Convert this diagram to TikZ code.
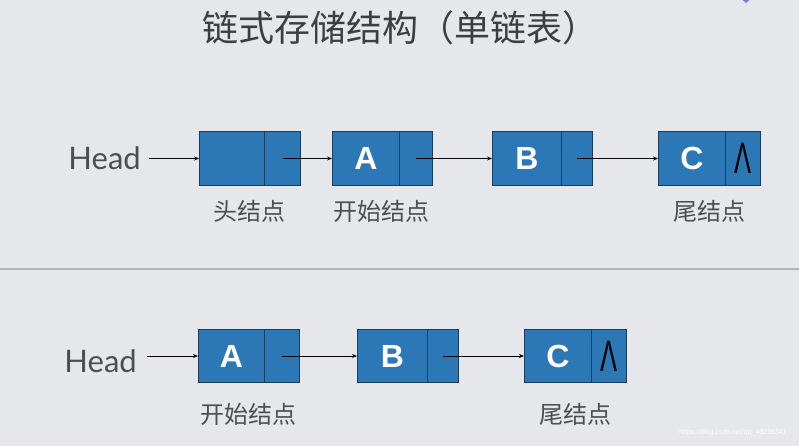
\documentclass[tikz,border=0pt]{standalone}
\usepackage{fontspec}
\usepackage{graphicx}
\setmainfont{Liberation Sans}
\newfontfamily\cjkf{Noto Sans CJK SC}
\newfontfamily\headf{Lato}
\usetikzlibrary{arrows.meta,shapes.geometric,calc}
\definecolor{bg}{HTML}{E6E7EA}
\definecolor{cellblue}{HTML}{2C78B6}
\definecolor{celledge}{HTML}{1B3D5C}
\definecolor{txtgray}{HTML}{4E4E4E}
\definecolor{titlegray}{HTML}{3E3E3E}
\definecolor{sepgray}{HTML}{B2B3B7}
\definecolor{markblue}{HTML}{6A7CF0}
\tikzset{
  cellbase/.style={draw=celledge, fill=cellblue, line width=1pt, inner sep=0pt, anchor=north west},
  dcell/.style={cellbase, text=white, font=\fontsize{32}{36}\selectfont\bfseries},
  pcell/.style={cellbase, text=black, font=\fontsize{44}{48}\selectfont},
  headtxt/.style={text=txtgray, font=\headf\fontsize{31}{36}\selectfont, inner sep=0pt, anchor=east},
  lbl/.style={text=txtgray, font=\cjkf\fontsize{24}{28}\selectfont, inner sep=0pt},
  arr/.style={draw=black, line width=0.9pt, -{Stealth[length=5pt,width=4pt]}},
}
\newcommand{\nullsym}{\scalebox{0.58}[1]{Λ}}
\begin{document}
\begin{tikzpicture}[x=1pt,y=-1pt]
\useasboundingbox (0,0) rectangle (799,446);
\fill[bg] (0,0) rectangle (799,446);
% decorative mark top right
\node[diamond, fill=markblue, inner sep=0pt, minimum width=12pt, minimum height=10pt] (mark) at (746,-2) {};
% title
\node[text=titlegray, font=\cjkf\fontsize{36}{40}\selectfont, inner sep=0pt] (title) at (400,28) {链式存储结构（单链表）};
% separator
\draw[sepgray, line width=1.6pt] (0,269) -- (799,269);

% ---------- top row ----------
\node[headtxt] (head1) at (141,158) {Head};
\node[dcell, minimum width=65pt, minimum height=54pt] (hd) at (199,131) {};
\node[pcell, minimum width=36pt, minimum height=54pt] (hp) at (264,131) {};
\node[dcell, minimum width=67pt, minimum height=54pt] (Ad) at (332,131) {A};
\node[pcell, minimum width=33pt, minimum height=54pt] (Ap) at (399,131) {};
\node[dcell, minimum width=69pt, minimum height=54pt] (Bd) at (492,131) {B};
\node[pcell, minimum width=31pt, minimum height=54pt] (Bp) at (561,131) {};
\node[dcell, minimum width=67pt, minimum height=54pt] (Cd) at (658,131) {C};
\node[pcell, minimum width=35pt, minimum height=54pt] (Cp) at (725,131) {\nullsym};

\draw[arr] ($(head1.east |- hd.west)+(8,0)$) -- (hd.west);
\draw[arr] (hp.center) -- (Ad.west);
\draw[arr] (Ap.center) -- (Bd.west);
\draw[arr] (Bp.center) -- (Cd.west);

\node[lbl] (l1) at (249,211) {头结点};
\node[lbl] (l2) at (381,211) {开始结点};
\node[lbl] (l3) at (709,211) {尾结点};

% ---------- bottom row ----------
\node[headtxt] (head2) at (137,361) {Head};
\node[dcell, minimum width=66pt, minimum height=53pt] (A2d) at (198,329) {A};
\node[pcell, minimum width=35pt, minimum height=53pt] (A2p) at (264,329) {};
\node[dcell, minimum width=70pt, minimum height=53pt] (B2d) at (357,329) {B};
\node[pcell, minimum width=31pt, minimum height=53pt] (B2p) at (427,329) {};
\node[dcell, minimum width=67pt, minimum height=53pt] (C2d) at (524,329) {C};
\node[pcell, minimum width=35pt, minimum height=53pt] (C2p) at (591,329) {\nullsym};

\draw[arr] ($(head2.east |- A2d.west)+(10,0)$) -- (A2d.west);
\draw[arr] (A2p.center) -- (B2d.west);
\draw[arr] (B2p.center) -- (C2d.west);

\node[lbl] (l4) at (248,414) {开始结点};
\node[lbl] (l5) at (575,414) {尾结点};

% watermark
\node[text=white, font=\fontsize{7}{8}\selectfont, inner sep=0pt] (wm) at (733,433) {https://blog.csdn.net/qq\_43238341};
\end{tikzpicture}
\end{document}
